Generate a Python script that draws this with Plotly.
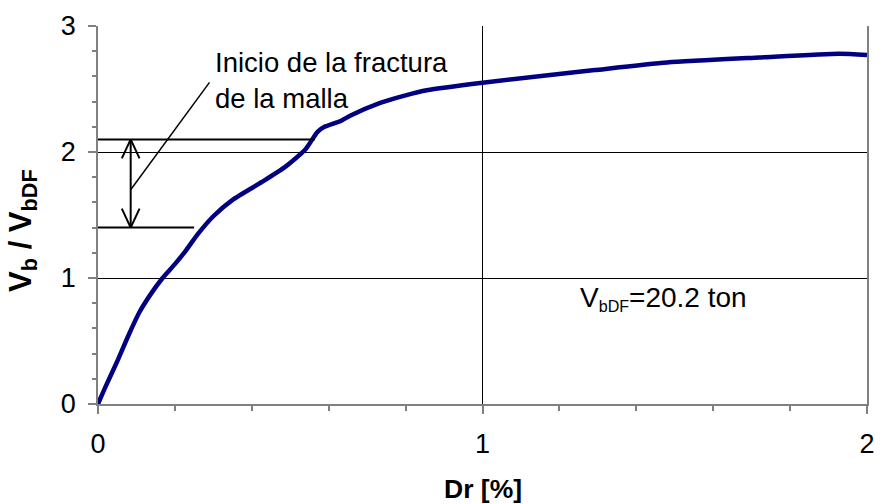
import plotly.graph_objects as go

# Data
drift = [0.0, 0.02, 0.048, 0.08, 0.108, 0.139, 0.168, 0.2, 0.229, 0.26, 0.3, 0.35,
         0.425, 0.486, 0.538, 0.553, 0.571, 0.589, 0.631, 0.657, 0.734, 0.8, 0.855,
         1.0, 1.292, 1.48, 1.72, 1.928, 2.0]
ratio = [0.0, 0.14, 0.325, 0.55, 0.73, 0.88, 1.0, 1.11, 1.22, 1.35, 1.49, 1.62,
         1.76, 1.88, 2.016, 2.08, 2.16, 2.2, 2.246, 2.29, 2.39, 2.45, 2.49,
         2.55, 2.65, 2.71, 2.75, 2.78, 2.77]

# Annotation geometry (data units)
upper_level = 2.10
lower_level = 1.40
upper_line_x = [-0.008, 0.564]
lower_line_x = [-0.008, 0.25]
arrow_x = 0.085
leader_x = [0.085, 0.29]
leader_y = [1.70, 2.553]

note_text = "Inicio de la fractura<br>de la malla"
vbdf_text = "V<span style='font-size:23px'><sub>bDF</sub></span>=20.2 ton"
x_title = "<b>Dr [%]</b>"
y_title = "<b>V<sub>b</sub> / V<sub>bDF</sub></b>"

x_ticks = [0, 1, 2]
y_ticks = [0, 1, 2, 3]

FONT = "Liberation Sans, Arial, sans-serif"

fig = go.Figure()
fig.add_trace(go.Scatter(x=drift, y=ratio, mode="lines",
                         line=dict(color="#000080", width=4.5, shape="spline", smoothing=0.6),
                         hoverinfo="skip"))

shapes = []
blk = dict(color="black", width=2)
shapes.append(dict(type="line", xref="x", yref="y", x0=upper_line_x[0], x1=upper_line_x[1],
                   y0=upper_level, y1=upper_level, line=blk))
shapes.append(dict(type="line", xref="x", yref="y", x0=lower_line_x[0], x1=lower_line_x[1],
                   y0=lower_level, y1=lower_level, line=blk))
shapes.append(dict(type="line", xref="x", yref="y", x0=arrow_x, x1=arrow_x,
                   y0=lower_level, y1=upper_level, line=blk))
# open arrowheads
ah_dx, ah_dy = 0.023, 0.15
for (yy, sgn) in [(upper_level, -1), (lower_level, 1)]:
    for s in (-1, 1):
        shapes.append(dict(type="line", xref="x", yref="y", x0=arrow_x, y0=yy,
                           x1=arrow_x + s * ah_dx, y1=yy + sgn * ah_dy, line=blk))
shapes.append(dict(type="line", xref="x", yref="y", x0=leader_x[0], x1=leader_x[1],
                   y0=leader_y[0], y1=leader_y[1], line=dict(color="black", width=1.5)))

annotations = [
    dict(x=0.2986, y=2.57, xref="x", yref="y", text=note_text, showarrow=False,
         xanchor="left", yanchor="middle", align="left",
         font=dict(family=FONT, size=27.5, color="black")),
    dict(x=1.248, y=0.84, xref="x", yref="y", text=vbdf_text,
         showarrow=False, xanchor="left", yanchor="middle", align="left",
         font=dict(family=FONT, size=28, color="black")),
    dict(x=0.5, y=-0.2249, xref="paper", yref="paper", text=x_title, showarrow=False,
         xanchor="center", yanchor="middle", font=dict(family=FONT, size=26.5, color="black")),
    dict(x=-0.0978, y=0.46, xref="paper", yref="paper", text=y_title, showarrow=False,
         textangle=-90, xanchor="center", yanchor="middle",
         font=dict(family=FONT, size=31, color="black")),
]

fig.update_layout(
    width=883, height=504,
    margin=dict(l=98, r=8, t=26, b=100),
    paper_bgcolor="white", plot_bgcolor="white",
    showlegend=False,
    shapes=shapes, annotations=annotations,
    xaxis=dict(range=[0, 2], tickvals=x_ticks, ticktext=[str(v) for v in x_ticks],
               showgrid=True, gridcolor="black", gridwidth=1,
               showline=True, linecolor="#808080", linewidth=1.5,
               ticks="outside", ticklen=8, tickcolor="#808080", tickwidth=1.5,
               minor=dict(dtick=0.2, ticks="outside", ticklen=5, tickcolor="#808080",
                          showgrid=False),
               tickfont=dict(family=FONT, size=27, color="black"),
               ticklabelstandoff=7,
               zeroline=False, fixedrange=True),
    yaxis=dict(range=[0, 3], tickvals=y_ticks, ticktext=[str(v) for v in y_ticks],
               showgrid=True, gridcolor="black", gridwidth=1,
               showline=True, linecolor="#808080", linewidth=1.5, mirror=True,
               ticks="outside", ticklen=8, tickcolor="#808080", tickwidth=1.5,
               minor=dict(dtick=0.2, ticks="outside", ticklen=4, tickcolor="#808080",
                          showgrid=False),
               tickfont=dict(family=FONT, size=27, color="black"),
               ticklabelstandoff=7,
               zeroline=False, fixedrange=True),
)

fig.write_html("out.html", config={"displayModeBar": False})
